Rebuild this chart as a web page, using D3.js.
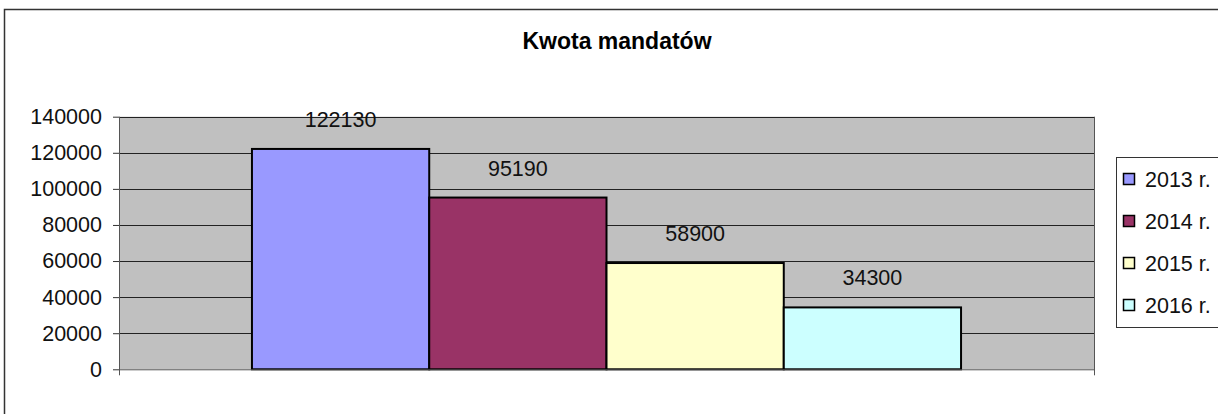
<!DOCTYPE html>
<html>
<head>
<meta charset="utf-8">
<script src="https://cdn.jsdelivr.net/npm/d3@7"></script>
<style>
  body { margin: 0; background: #fff; }
  svg { display: block; font-family: Arial, "Liberation Sans", sans-serif; }
</style>
</head>
<body>
<svg id="chart"></svg>
<script>
// chart data
const title = "Kwota mandatów";
const series = ["2013 r.", "2014 r.", "2015 r.", "2016 r."];
const values = [122130, 95190, 58900, 34300];
const colors = ["#9999FF", "#993366", "#FFFFCC", "#CCFFFF"];
const yTicks = [0, 20000, 40000, 60000, 80000, 100000, 120000, 140000];

const width = 1218;
const height = 414;
const fontSize = 21.5;

let svg = d3.select("#chart").attr("width", width).attr("height", height);

// outer frame (runs off the right and bottom edges)
svg.append("rect")
  .attr("x", 4.5).attr("y", 9.5)
  .attr("width", width + 10).attr("height", height + 10)
  .attr("fill", "#fff")
  .attr("stroke", "#333").attr("stroke-width", 1.5);

svg.append("text")
  .attr("x", 617).attr("y", 49)
  .attr("text-anchor", "middle")
  .attr("font-size", 23).attr("font-weight", "bold")
  .text(title);

let plotLeft = 119, plotRight = 1094, plotTop = 116.7, plotBottom = 369.3;

let yScale = d3.scaleLinear().domain([0, 140000]).range([plotBottom, plotTop]);

// one category, four series, gap width 150%
let xScale = d3.scaleBand()
  .domain(series)
  .range([plotLeft, plotRight])
  .paddingInner(0)
  .paddingOuter(0.75);

svg.append("rect")
  .attr("x", plotLeft).attr("y", plotTop)
  .attr("width", plotRight - plotLeft).attr("height", plotBottom - plotTop)
  .attr("fill", "#C0C0C0");

// gridlines
svg.append("g")
  .selectAll("line")
  .data(yTicks.filter(d => d > 0))
  .join("line")
  .attr("x1", plotLeft).attr("x2", plotRight)
  .attr("y1", d => Math.round(yScale(d)) + 0.5)
  .attr("y2", d => Math.round(yScale(d)) + 0.5)
  .attr("stroke", "#222").attr("stroke-width", 1);

// right edge of plot
svg.append("line")
  .attr("x1", plotRight + 0.5).attr("x2", plotRight + 0.5)
  .attr("y1", plotTop).attr("y2", plotBottom + 6)
  .attr("stroke", "#555");

// bars
svg.append("g")
  .selectAll("rect")
  .data(values)
  .join("rect")
  .attr("x", (d, i) => xScale(series[i]))
  .attr("y", d => yScale(d))
  .attr("width", xScale.bandwidth())
  .attr("height", d => plotBottom - yScale(d))
  .attr("fill", (d, i) => colors[i])
  .attr("stroke", "#000").attr("stroke-width", 2);

// value labels
svg.append("g")
  .selectAll("text")
  .data(values)
  .join("text")
  .attr("x", (d, i) => xScale(series[i]) + xScale.bandwidth() / 2)
  .attr("y", d => yScale(d) - 22)
  .attr("text-anchor", "middle")
  .attr("font-size", fontSize)
  .attr("fill", "#111")
  .text(d => d);

// y axis
let yAxis = d3.axisLeft(yScale).tickValues(yTicks).tickSize(6).tickPadding(11).tickFormat(d => d);
let gy = svg.append("g")
  .attr("transform", "translate(" + plotLeft + ",0)")
  .call(yAxis);
gy.select(".domain").attr("stroke", "#555").attr("d", "M0.5," + plotTop + "V" + (plotBottom + 6));
gy.selectAll(".tick line").attr("stroke", "#333");
gy.selectAll(".tick text").attr("font-size", fontSize).attr("font-family", "Arial, 'Liberation Sans', sans-serif").attr("fill", "#111");

// x axis baseline
svg.append("line")
  .attr("x1", plotLeft).attr("x2", plotRight)
  .attr("y1", plotBottom + 0.5).attr("y2", plotBottom + 0.5)
  .attr("stroke", "#555");

// legend
let legend = svg.append("g");
legend.append("rect")
  .attr("x", 1116.5).attr("y", 157.5)
  .attr("width", 120).attr("height", 170)
  .attr("fill", "#fff").attr("stroke", "#333");

let items = legend.selectAll("g.item")
  .data(series)
  .join("g")
  .attr("class", "item")
  .attr("transform", (d, i) => "translate(1123," + (179 + i * 42) + ")");

items.append("rect")
  .attr("x", 0.5).attr("y", -5.5)
  .attr("width", 11).attr("height", 11)
  .attr("fill", (d, i) => colors[i])
  .attr("stroke", "#000").attr("stroke-width", 1.5);

items.append("text")
  .attr("x", 22).attr("y", 7.5)
  .attr("font-size", fontSize)
  .attr("fill", "#111")
  .text(d => d);
</script>
</body>
</html>
